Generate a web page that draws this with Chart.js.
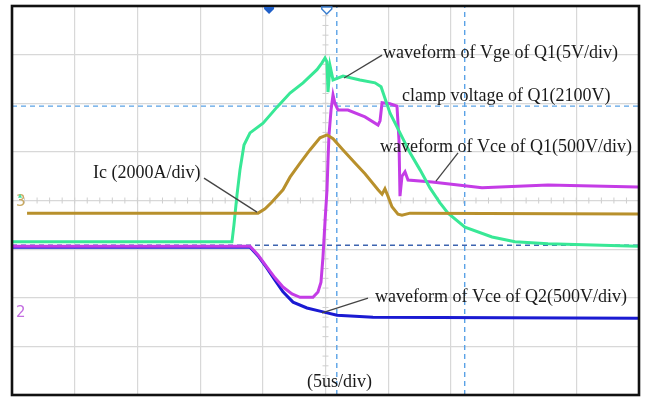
<!DOCTYPE html>
<html><head><meta charset="utf-8">
<script src="https://cdn.jsdelivr.net/npm/chart.js@4.4.1/dist/chart.umd.min.js"></script>
<style>html,body{margin:0;padding:0;background:#fff}#wrap{width:645px;height:399px;position:relative}</style>
</head><body><div id="wrap"><canvas id="c"></canvas></div>
<script>
// time axis in microseconds (5 us/div, 10 div), vertical in screen divisions (8 div)
const icT  = [1.2,19.62,20.18,20.73,21.61,22.17,22.97,23.76,24.56,25.12,25.6,26.4,27.35,28.15,29.19,29.51,29.74,29.98,30.3,30.78,31.1,31.74,49.92];
const icV  = [-0.26,-0.26,-0.17,-0.03,0.22,0.48,0.77,1.04,1.29,1.35,1.27,1.04,0.77,0.55,0.22,0.13,0.24,0.09,-0.13,-0.28,-0.3,-0.26,-0.28];
const vgeT = [0,17.54,17.7,17.94,18.18,18.5,18.98,20.02,21.13,22.17,23.21,24.32,24.72,24.96,25.12,25.2,25.36,25.6,26.4,27.75,28.95,29.43,30.14,30.94,31.74,32.54,33.33,34.13,34.77,36.12,38.28,40.11,42.74,49.92];
const vgeV = [-0.85,-0.85,-0.5,0.11,0.63,1.14,1.39,1.59,1.92,2.21,2.42,2.69,2.83,2.93,2.85,2.23,2.77,2.48,2.56,2.48,2.42,2.34,1.8,1.39,0.98,0.63,0.26,-0.05,-0.26,-0.55,-0.75,-0.85,-0.89,-0.94];
const vce1T = [0,18.98,19.62,20.33,20.97,21.61,22.33,22.97,24.0,24.4,24.64,24.8,24.96,25.12,25.2,25.28,25.44,25.6,25.76,26.0,26.79,28.15,29.19,29.35,29.51,30.14,30.7,30.86,30.94,31.1,31.34,31.58,33.49,37.48,42.74,49.92];
const vce1V = [-0.94,-0.94,-1.12,-1.37,-1.59,-1.78,-1.92,-1.99,-1.99,-1.88,-1.68,-1.16,-0.44,0.22,0.83,1.35,1.86,2.17,1.99,1.86,1.86,1.72,1.55,1.64,2.01,1.99,1.94,1.24,0.09,0.5,0.59,0.42,0.38,0.26,0.32,0.28];
const vce2T = [0,18.98,19.62,20.33,20.97,21.61,22.41,23.52,24.8,25.92,28.79,49.92];
const vce2V = [-0.96,-0.96,-1.14,-1.39,-1.64,-1.88,-2.09,-2.21,-2.29,-2.36,-2.4,-2.42];
const clampV = 1.94, refV = -0.92;       // horizontal cursors
const cursorT = [25.9, 36.1];            // vertical cursors
const triggerT = [20.5, 25.1];           // top markers
const noteText = ["waveform of Vge of Q1(5V/div)","clamp voltage of Q1(2100V)","waveform of Vce of Q1(500V/div)","Ic (2000A/div)","waveform of Vce of Q2(500V/div)","(5us/div)"];
const noteT = [29.59,31.1,29.35,6.46,28.95,23.52];
const noteV = [3.03,2.15,1.1,0.57,-1.99,-3.73];
const leaderFrom = [[29.51,2.99],null,[35.57,0.98],[15.31,0.46],[28.39,-2.01],null];
const leaderTo   = [[26.48,2.52],null,[33.81,0.40],[19.54,-0.24],[24.72,-2.31],null];
const chanLabel = ["3","2"], chanV = [-0.03,-2.31], chanColor = ["#c8a860","#c36ee0"];

const pts = (xs, ys) => xs.map((x,i)=>({x, y:ys[i]}));
const trace = (data,color)=>({data,borderColor:color,borderWidth:3,pointRadius:0,showLine:true,tension:0,fill:false});
const dashed = (data,color)=>({data,borderColor:color,borderWidth:1.4,borderDash:[5,4],pointRadius:0,showLine:true,fill:false});

const overlay = {
  id:'overlay',
  beforeDatasetsDraw(chart){
    const {ctx, scales:{x,y}} = chart;
    ctx.save(); ctx.strokeStyle='#cfcfcf'; ctx.lineWidth=1;
    const x0=x.getPixelForValue(25), y0=y.getPixelForValue(0);
    for(let t=0;t<=50;t+=1){const px=x.getPixelForValue(t);ctx.beginPath();ctx.moveTo(px,y0-3);ctx.lineTo(px,y0+3);ctx.stroke();}
    for(let v=-4;v<=4;v+=0.2){const py=y.getPixelForValue(v);ctx.beginPath();ctx.moveTo(x0-3,py);ctx.lineTo(x0+3,py);ctx.stroke();}
    ctx.restore();
  },
  afterDatasetsDraw(chart){
    const {ctx, chartArea:a, scales:{x,y}} = chart;
    ctx.save();
    ctx.strokeStyle='#444'; ctx.lineWidth=1.3;
    leaderFrom.forEach((f,i)=>{ if(!f) return; const t=leaderTo[i];
      ctx.beginPath(); ctx.moveTo(x.getPixelForValue(f[0]),y.getPixelForValue(f[1])); ctx.lineTo(x.getPixelForValue(t[0]),y.getPixelForValue(t[1])); ctx.stroke();});
    ctx.fillStyle='#1a1a1a'; ctx.font='18px "Liberation Serif", "Times New Roman", serif'; ctx.textBaseline='middle'; ctx.textAlign='left';
    noteText.forEach((s,i)=>ctx.fillText(s, x.getPixelForValue(noteT[i]), y.getPixelForValue(noteV[i])));
    ctx.font='15px "DejaVu Sans", sans-serif';
    chanLabel.forEach((s,i)=>{ctx.fillStyle=chanColor[i]; ctx.fillText(s, a.left+4, y.getPixelForValue(chanV[i]));});
    ctx.fillStyle='#40e0a0'; const cy=y.getPixelForValue(0.12);
    ctx.beginPath(); ctx.moveTo(a.left+6,cy+3); ctx.lineTo(a.left+8,cy-1); ctx.lineTo(a.left+10,cy+3); ctx.closePath(); ctx.fill();
    ctx.strokeStyle='#111'; ctx.lineWidth=2.6; ctx.strokeRect(a.left,a.top,a.right-a.left,a.bottom-a.top);
    const drawMark=(t,filled)=>{const px=x.getPixelForValue(t),py=a.top+1;
      ctx.beginPath(); ctx.moveTo(px-5,py); ctx.lineTo(px+5,py); ctx.lineTo(px+5,py+2); ctx.lineTo(px,py+7); ctx.lineTo(px-5,py+2); ctx.closePath();
      if(filled){ctx.fillStyle='#1f5fc8';ctx.fill();} else {ctx.fillStyle='#fff';ctx.fill();ctx.strokeStyle='#3b7fd0';ctx.lineWidth=1.5;ctx.stroke();}};
    drawMark(triggerT[0],true); drawMark(triggerT[1],false);
    ctx.restore();
  }
};

new Chart(document.getElementById('c'),{
  type:'scatter',
  data:{datasets:[
    trace(pts(icT,icV),'#b8902c'),
    trace(pts(vgeT,vgeV),'#38e896'),
    trace(pts(vce1T,vce1V),'#c43ce6'),
    trace(pts(vce2T,vce2V),'#1a1ad2'),
    dashed([{x:0,y:clampV},{x:50,y:clampV}],'#5aa2e6'),
    dashed([{x:0,y:refV},{x:50,y:refV}],'#3d64b0'),
    dashed([{x:cursorT[0],y:-4},{x:cursorT[0],y:4}],'#5aa2e6'),
    dashed([{x:cursorT[1],y:-4},{x:cursorT[1],y:4}],'#5aa2e6')
  ]},
  options:{
    responsive:true, maintainAspectRatio:false, animation:false,
    layout:{padding:{left:12,top:6,right:6,bottom:4}},
    plugins:{legend:{display:false},tooltip:{enabled:false}},
    scales:{
      x:{type:'linear',min:0,max:50,ticks:{display:false,stepSize:5},grid:{color:'#d8d8d8',lineWidth:1.2,drawTicks:false},border:{display:false}},
      y:{type:'linear',min:-4,max:4,ticks:{display:false,stepSize:1},grid:{color:'#d8d8d8',lineWidth:1.2,drawTicks:false},border:{display:false}}
    }
  },
  plugins:[overlay]
});
</script></body></html>
